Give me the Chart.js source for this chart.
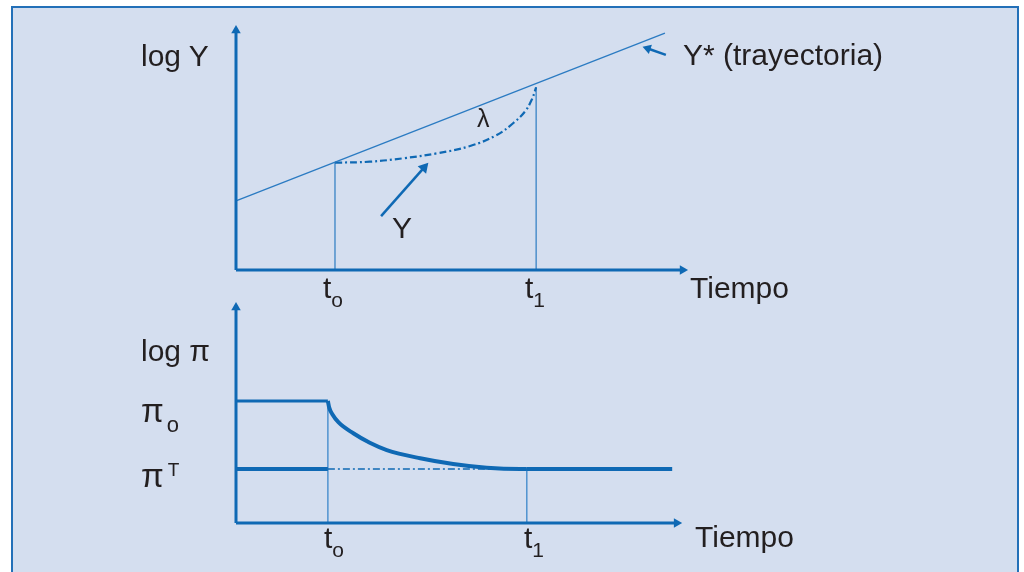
<!DOCTYPE html>
<html>
<head>
<meta charset="utf-8">
<script src="https://cdn.jsdelivr.net/npm/chart.js@4.4.0/dist/chart.umd.min.js"></script>
<style>
html, body { margin: 0; padding: 0; background: #fff; width: 1024px; height: 572px; overflow: hidden; }
#frame { position: absolute; left: 11px; top: 6px; width: 1004px; height: 600px;
         border: 2px solid #2370b8; border-bottom: none; background: #d4deef; }
canvas { position: absolute; left: 0; top: 0; }
.lbl { position: absolute; font-family: "Liberation Sans", Arial, sans-serif; color: #231f20;
       white-space: nowrap; line-height: 1; }
.sub { position: relative; }
</style>
</head>
<body>
<div id="frame"></div>
<canvas id="topChart" width="1024" height="572"></canvas>
<canvas id="botChart" width="1024" height="572"></canvas>

<script>
// ---- top panel: log Y vs time ----
const topT0 = 2.19;
const topT1 = 6.64;
const trendX = [0, 9.49];            // Y* (trayectoria)
const trendY = [2.82, 9.67];
const pathX = [2.19, 2.96, 3.70, 4.44, 5.18, 5.77, 6.13, 6.39, 6.54, 6.64];   // Y
const pathY = [4.38, 4.42, 4.56, 4.76, 5.06, 5.51, 5.99, 6.46, 6.94, 7.45];
const topAxisEnd = [9.88, 9.78];     // x, y
const arrowYFrom = [3.21, 2.20], arrowYTo = [4.16, 4.18];
const arrowStarFrom = [9.51, 8.78], arrowStarTo = [9.11, 9.04];

// ---- bottom panel: log pi vs time ----
const botT0 = 2.06;
const botT1 = 6.52;
const piHigh = 5.52;   // pi_o
const piLow = 2.44;    // pi^T
const botEnd = 9.78;
const decayX = [2.06, 2.09, 2.16, 2.30, 2.63, 3.00, 3.38, 4.13, 4.87, 5.62, 6.37, 6.52];
const decayY = [5.52, 5.22, 4.92, 4.55, 4.06, 3.63, 3.30, 2.93, 2.67, 2.50, 2.44, 2.44];
const botAxisEnd = [9.88, 9.75];

const BLUE = "#0f69b4";
const THIN = "#2b7bc2";
const LIGHT = "#4f92cf";

function pts(xs, ys) {
    return xs.map((x, i) => ({ x: x, y: ys[i] }));
}

function seg(data, color, width, extra) {
    return Object.assign({
        data: data,
        borderColor: color,
        borderWidth: width,
        pointRadius: 0,
        tension: 0,
        fill: false,
        clip: false
    }, extra || {});
}

// line with a triangle head on its last point
function arrow(from, to, color, width, size, angle) {
    return seg([{ x: from[0], y: from[1] }, { x: to[0], y: to[1] }], color, width, {
        pointRadius: [0, size],
        pointStyle: "triangle",
        pointRotation: angle,
        pointBackgroundColor: color,
        pointBorderColor: color,
        pointBorderWidth: 0
    });
}

function makeChart(id, area, datasets) {
    return new Chart(document.getElementById(id), {
        type: "line",
        data: { datasets: datasets },
        options: {
            responsive: false,
            animation: false,
            devicePixelRatio: 1,
            layout: { padding: { left: area.left, right: 1024 - area.right, top: area.top, bottom: 572 - area.bottom } },
            plugins: { legend: { display: false }, tooltip: { enabled: false } },
            scales: {
                x: { type: "linear", min: 0, max: 10, display: false },
                y: { type: "linear", min: 0, max: 10, display: false }
            }
        }
    });
}

makeChart("topChart", { left: 236, right: 688, top: 25, bottom: 270 }, [
    arrow([0, 0], [topAxisEnd[0], 0], BLUE, 3, 5.5, 90),
    arrow([0, 0], [0, topAxisEnd[1]], BLUE, 3, 5.5, 0),
    seg(pts(trendX, trendY), THIN, 1.3),
    seg(pts(pathX, pathY), BLUE, 2.2, { borderDash: [7, 3, 2, 3], tension: 0.4 }),
    seg([{ x: topT0, y: 0 }, { x: topT0, y: pathY[0] }], THIN, 1.2),
    seg([{ x: topT1, y: 0 }, { x: topT1, y: 7.47 }], THIN, 1.2),
    arrow(arrowYFrom, arrowYTo, BLUE, 2.5, 6.5, 41.6),
    arrow(arrowStarFrom, arrowStarTo, BLUE, 2.5, 5.5, -71.7)
]);

makeChart("botChart", { left: 236, right: 682, top: 302, bottom: 523 }, [
    arrow([0, 0], [botAxisEnd[0], 0], BLUE, 3, 5.5, 90),
    arrow([0, 0], [0, botAxisEnd[1]], BLUE, 3, 5.5, 0),
    seg([{ x: 0, y: piHigh }, { x: botT0, y: piHigh }], BLUE, 3),
    seg(pts(decayX, decayY), BLUE, 4, { cubicInterpolationMode: "monotone" }),
    seg([{ x: 0, y: piLow }, { x: botT0, y: piLow }], BLUE, 4),
    seg([{ x: botT0, y: piLow }, { x: botT1, y: piLow }], BLUE, 1.5, { borderDash: [7, 3, 2, 3] }),
    seg([{ x: botT1, y: piLow }, { x: botEnd, y: piLow }], BLUE, 4),
    seg([{ x: botT0, y: 0 }, { x: botT0, y: piHigh }], LIGHT, 1.5),
    seg([{ x: botT1, y: 0 }, { x: botT1, y: piLow }], LIGHT, 1.5)
]);

// ---- text ----
function addLabel(html, left, baseline, size) {
    const d = document.createElement("div");
    d.className = "lbl";
    d.style.left = left + "px";
    d.style.top = (baseline - 0.8465 * size) + "px";
    d.style.fontSize = size + "px";
    d.innerHTML = html;
    document.body.appendChild(d);
}

const subO = '<span class="sub" style="font-size:21px;top:9px">o</span>';
const sub1 = '<span class="sub" style="font-size:21px;top:9px">1</span>';

addLabel("log Y", 141, 66, 30);
addLabel("Y* (trayectoria)", 683, 65, 30);
addLabel("λ", 477, 127, 25);
addLabel("Y", 392, 238, 30);
addLabel("t" + subO, 323, 298, 30);
addLabel("t" + sub1, 525, 298, 30);
addLabel("Tiempo", 690, 298, 30);

addLabel("log π", 141, 361, 30);
addLabel('π<span class="sub" style="font-size:22px;top:10px;margin-left:3px">o</span>', 141, 422, 33);
addLabel('π<span class="sub" style="font-size:19px;top:-11px;margin-left:4px">T</span>', 141, 487, 33);
addLabel("t" + subO, 324, 548, 30);
addLabel("t" + sub1, 524, 548, 30);
addLabel("Tiempo", 695, 547, 30);
</script>
</body>
</html>
